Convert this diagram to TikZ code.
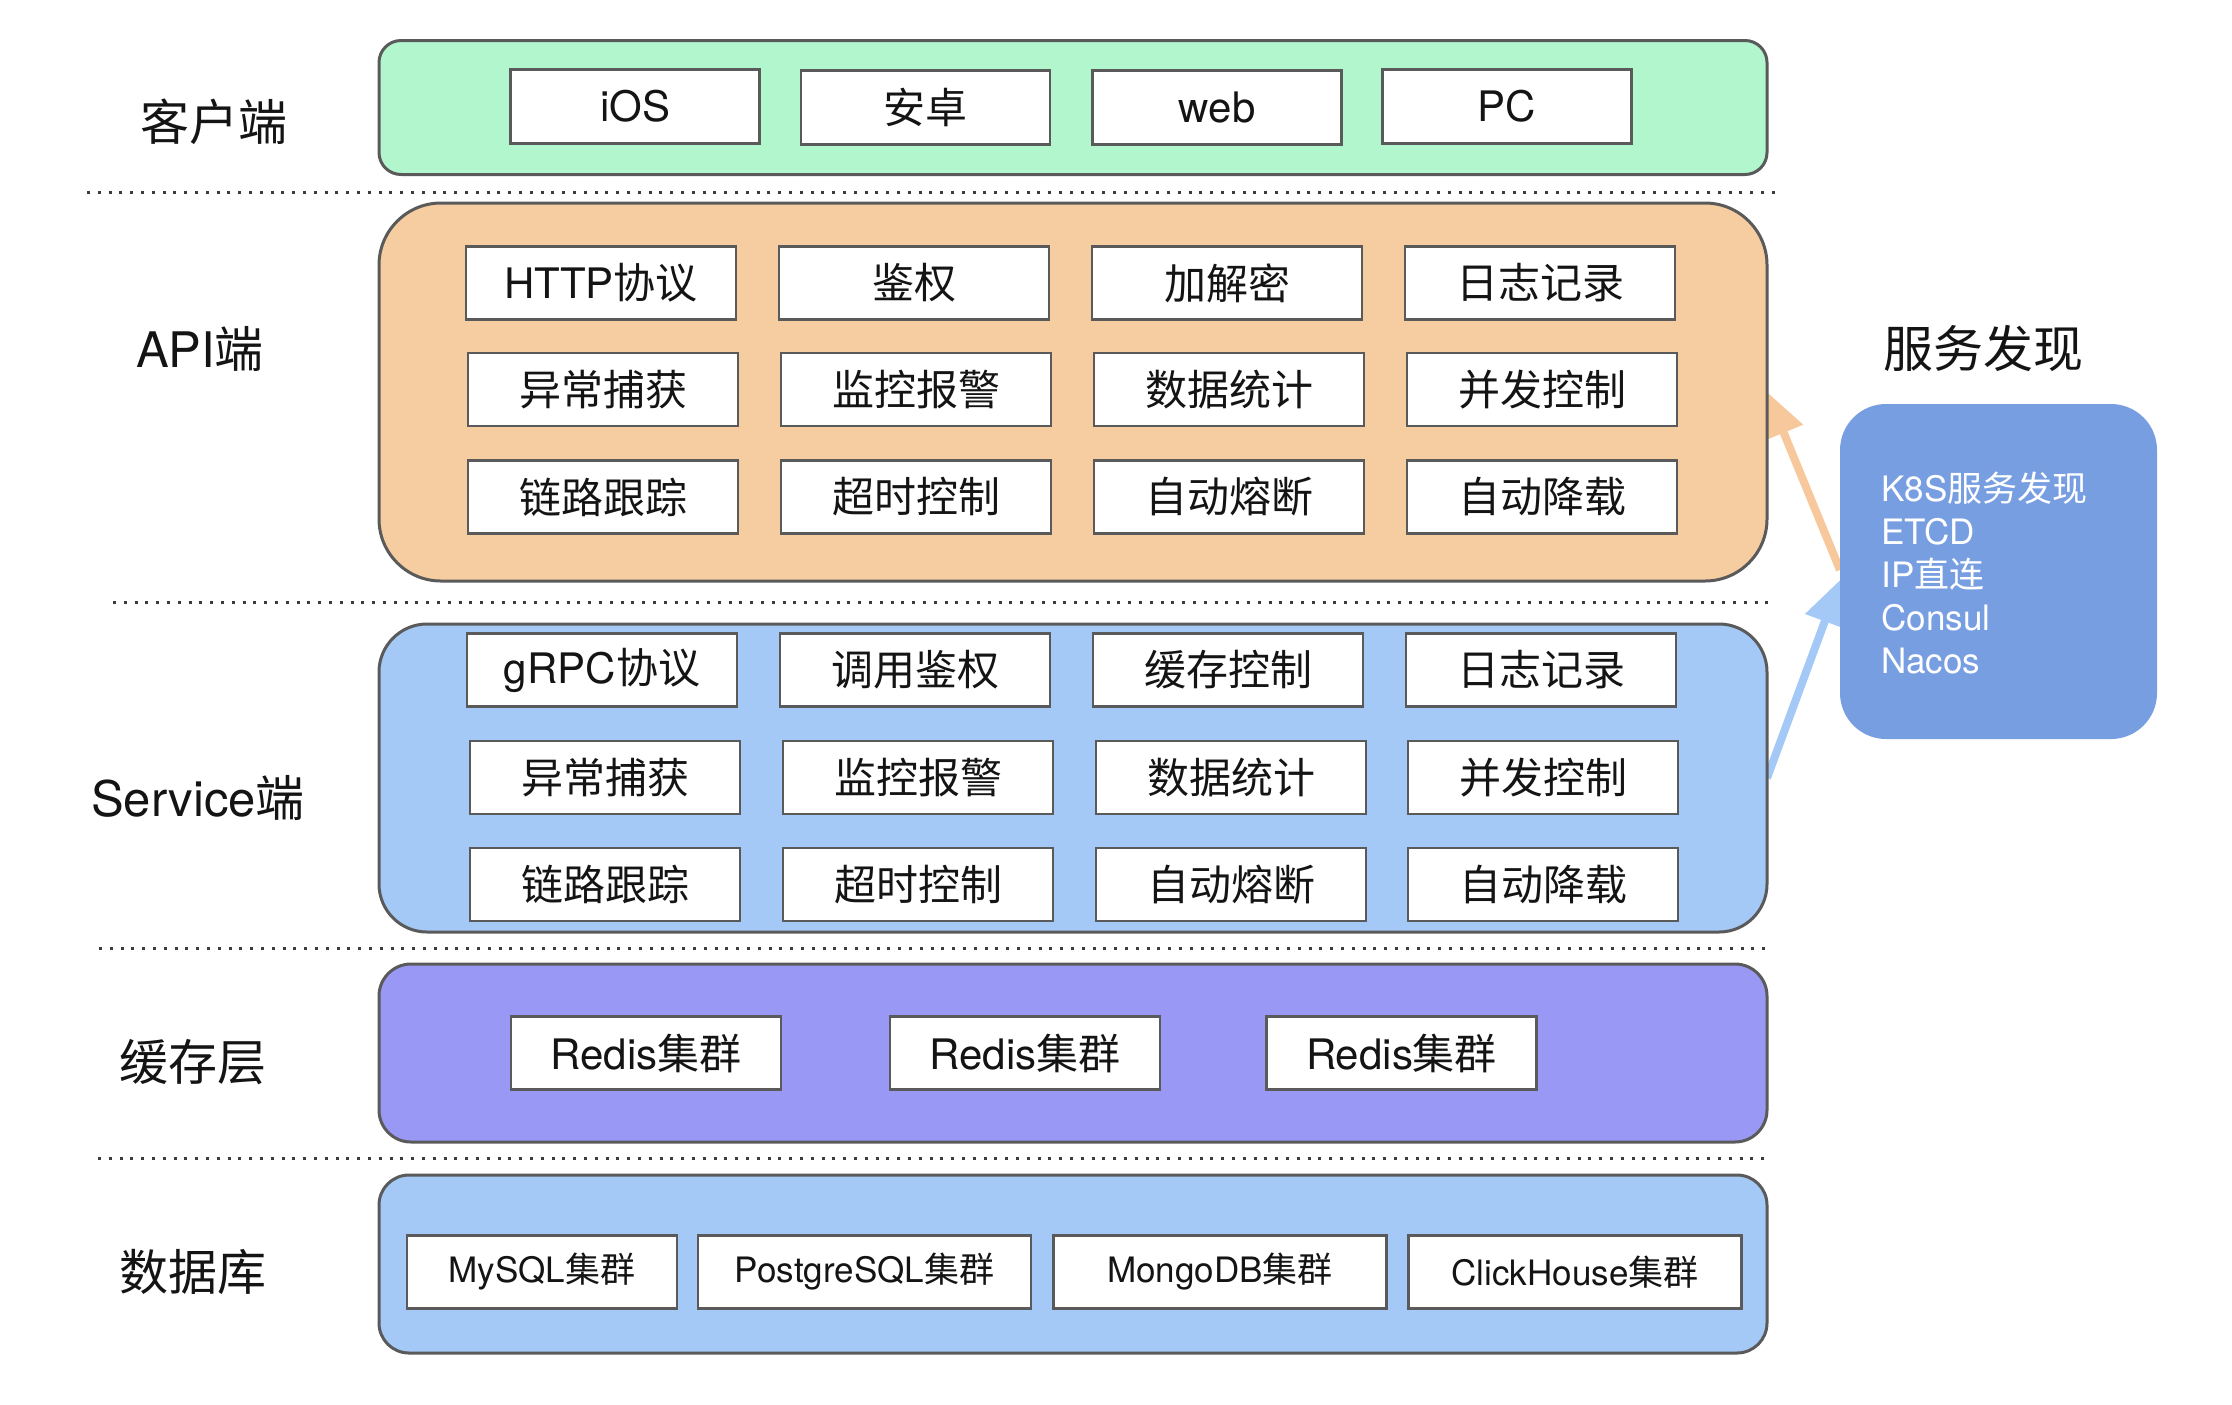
\documentclass[tikz,border=0pt]{standalone}
\usepackage{fontspec}
\setmainfont{TeX Gyre Heros}
\newfontfamily\zhfont{Noto Sans CJK SC}
\newcommand{\zh}[1]{{\zhfont #1}}
\usetikzlibrary{arrows.meta,backgrounds}
\definecolor{cgreen}{RGB}{178,246,206}
\definecolor{corange}{RGB}{246,205,160}
\definecolor{cblue}{RGB}{164,201,247}
\definecolor{cpurple}{RGB}{153,153,245}
\definecolor{csd}{RGB}{120,158,226}
\definecolor{cline}{RGB}{90,90,90}
\definecolor{cdot}{RGB}{60,60,60}
\definecolor{ctext}{RGB}{20,20,20}
\definecolor{carrowo}{RGB}{246,200,155}
\definecolor{carrowb}{RGB}{164,201,247}
\begin{document}
\begin{tikzpicture}[x=0.5pt,y=-0.5pt,
  layer/.style={draw=cline, line width=1.5pt, outer sep=0pt, inner sep=0pt, minimum width=694pt},
  cell/.style={draw=cline, fill=white, line width=1.3pt, inner sep=0pt, outer sep=0pt,
    minimum width=135pt, minimum height=36.5pt, text=ctext, font=\fontsize{21}{25}\selectfont},
  ccell/.style={cell, minimum width=124.5pt, minimum height=37pt},
  dbcell/.style={cell, minimum width=166.5pt, font=\fontsize{17.5}{21}\selectfont},
  side/.style={font=\fontsize{24.5}{29}\selectfont, text=ctext, inner sep=0pt},
  sepline/.style={draw=cdot, line width=1.5pt, dash pattern=on 1.5pt off 3.9pt},
  flow/.style={line width=4pt, -{Triangle[length=22pt,width=20pt]}}
]
\useasboundingbox (0,0) rectangle (2232,1404);

% layers
\node[layer, fill=cgreen, rounded corners=11pt, minimum height=67pt] (client) at (1073,107.5) {};
\node[layer, fill=corange, rounded corners=31pt, minimum height=189pt] (api) at (1073,392) {};
\node[layer, fill=cblue, rounded corners=24pt, minimum height=154pt] (svc) at (1073,778) {};
\node[layer, fill=cpurple, rounded corners=16pt, minimum height=89pt] (cache) at (1073,1053) {};
\node[layer, fill=cblue, rounded corners=15pt, minimum height=89pt] (db) at (1073,1264) {};

% side labels
\node[side] (lclient) at (213.5,122) {\zh{客户端}};
\node[side] (lapi) at (200,349) {API\zh{端}};
\node[side] (lsvc) at (198,798) {Service\zh{端}};
\node[side] (lcache) at (192.5,1062) {\zh{缓存层}};
\node[side] (ldb) at (193,1272) {\zh{数据库}};

% client
\node[ccell] (c1) at (635,106.5) {iOS};
\node[ccell] (c2) at (925.5,107.5) {\zh{安卓}};
\node[ccell] (c3) at (1217,107.5) {web};
\node[ccell] (c4) at (1507,106.5) {PC};

% API
\node[cell] (a11) at (601,283) {HTTP\zh{协议}};
\node[cell] (a12) at (914,283) {\zh{鉴权}};
\node[cell] (a13) at (1227,283) {\zh{加解密}};
\node[cell] (a14) at (1540,283) {\zh{日志记录}};
\node[cell] (a21) at (603,389.5) {\zh{异常捕获}};
\node[cell] (a22) at (916,389.5) {\zh{监控报警}};
\node[cell] (a23) at (1229,389.5) {\zh{数据统计}};
\node[cell] (a24) at (1542,389.5) {\zh{并发控制}};
\node[cell] (a31) at (603,497) {\zh{链路跟踪}};
\node[cell] (a32) at (916,497) {\zh{超时控制}};
\node[cell] (a33) at (1229,497) {\zh{自动熔断}};
\node[cell] (a34) at (1542,497) {\zh{自动降载}};

% Service
\node[cell] (s11) at (602,670) {gRPC\zh{协议}};
\node[cell] (s12) at (915,670) {\zh{调用鉴权}};
\node[cell] (s13) at (1228,670) {\zh{缓存控制}};
\node[cell] (s14) at (1541,670) {\zh{日志记录}};
\node[cell] (s21) at (605,777.5) {\zh{异常捕获}};
\node[cell] (s22) at (918,777.5) {\zh{监控报警}};
\node[cell] (s23) at (1231,777.5) {\zh{数据统计}};
\node[cell] (s24) at (1543,777.5) {\zh{并发控制}};
\node[cell] (s31) at (605,884.5) {\zh{链路跟踪}};
\node[cell] (s32) at (918,884.5) {\zh{超时控制}};
\node[cell] (s33) at (1231,884.5) {\zh{自动熔断}};
\node[cell] (s34) at (1543,884.5) {\zh{自动降载}};

% cache
\node[cell] (r1) at (646,1053) {Redis\zh{集群}};
\node[cell] (r2) at (1025,1053) {Redis\zh{集群}};
\node[cell] (r3) at (1401.5,1053) {Redis\zh{集群}};

% database
\node[dbcell, minimum width=135pt] (d1) at (542,1272) {MySQL\zh{集群}};
\node[dbcell] (d2) at (864.5,1272) {PostgreSQL\zh{集群}};
\node[dbcell] (d3) at (1220,1272) {MongoDB\zh{集群}};
\node[dbcell] (d4) at (1575,1272) {ClickHouse\zh{集群}};

% separators
\draw[sepline] (87,192) -- (1777,192);
\draw[sepline] (113,602) -- (1770,602);
\draw[sepline] (99,948) -- (1770,948);
\draw[sepline] (98,1158) -- (1770,1158);

% service discovery
\node[side, font=\fontsize{25}{30}\selectfont] (sdtitle) at (1983,348) {\zh{服务发现}};
\node[fill=csd, rounded corners=23pt, minimum width=158.5pt, minimum height=167.5pt, inner sep=0pt, outer sep=0pt] (sd) at (1998.5,571.5) {};
\node[anchor=west, align=left, text=white, inner sep=0pt, font=\fontsize{17.5}{21.5}\selectfont] (sdtext) at (1881,573)
  {K8S\zh{服务发现}\\ETCD\\IP\zh{直连}\\Consul\\Nacos};
\coordinate (sdA) at (1840,570);
\coordinate (sdB) at (1840,580);

\begin{pgfonlayer}{background}
\draw[flow, draw=carrowo] (sdA) -- (api.east);
\draw[flow, draw=carrowb] (svc.east) -- (sdB);
\end{pgfonlayer}
\end{tikzpicture}
\end{document}
